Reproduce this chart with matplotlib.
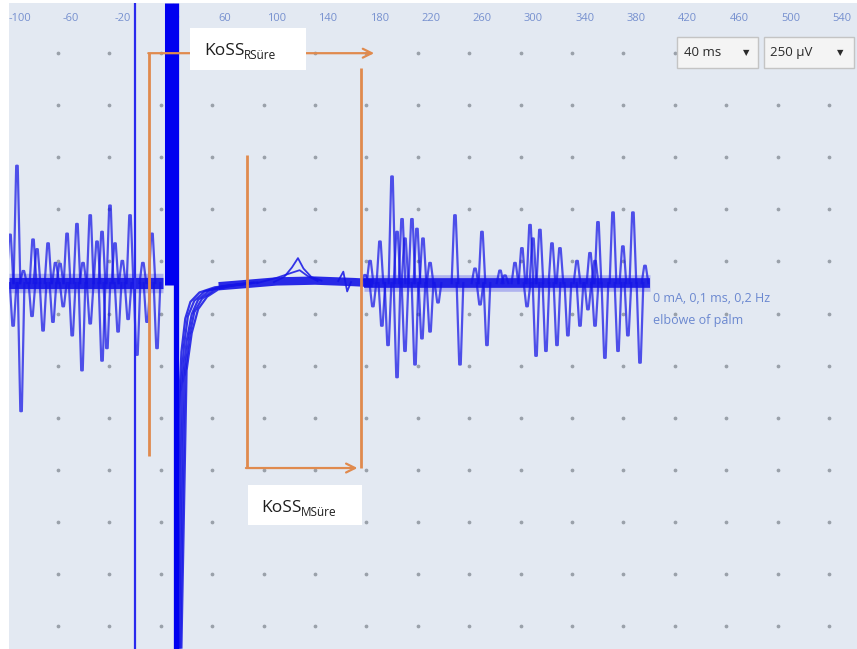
import matplotlib
matplotlib.use('Agg')
import matplotlib.pyplot as plt
from matplotlib.patches import Rectangle

plt.rcParams['font.family'] = ['Open Sans', 'DejaVu Sans']

# sweep axis (ms) and 250 uV / 40 ms division dots
tick_ms = list(range(-100, 541, 40))
dot_ms = list(range(-70, 531, 40))
dot_uv = list(range(-1646, 1105, 250))

# EMG deflections (time ms, peak uV) before the stimulus
pre_spikes = [(-107.4, 240), (-102, 581), (-97, 60), (-89.5, 216), (-86.4, 168),
              (-77.8, 197), (-72, 100), (-68.5, 96), (-63, 245), (-55.3, 293),
              (-50.6, 100), (-45, 336), (-39.7, 206), (-35.8, 254), (-29.6, 384),
              (-25.7, 197), (-20, 110), (-14, 336), (-4, 100), (3.1, 245),
              (-105, -211), (-98.8, -634), (-90.3, -163), (-81.7, -235), (-74, -192),
              (-66, -115), (-59, -259), (-51.4, -432), (-45, -200), (-35.8, -384),
              (-32, -322), (-23.3, -240), (-15.5, -178), (-8.6, -355), (-0.8, -192),
              (7, -322)]

# EMG returning after the silent period
post_spikes = [(168.9, 40), (172.8, 110), (180.5, 206), (189.9, 528), (193.8, 254),
               (197.7, 317), (200, 221), (205.4, 317), (209.3, 269), (214, 221),
               (219.5, 100), (238.9, 336), (254.5, 72), (259.9, 254), (274, 62),
               (175, -115), (182, -211), (186.8, -307), (193.8, -466), (200, -336),
               (207.8, -403), (213.2, -274), (219.5, -240), (225.7, -96), (242.8, -403),
               (258.4, -106), (263.8, -307),
               (277.8, 38), (285.6, 100), (291, 173), (297.3, 288), (299.6, 221),
               (305, 264), (314.4, 197), (320.6, 173), (333.9, 110), (344, 149),
               (347.9, 110), (350.2, 302), (361.9, 350), (369.6, 182), (377.4, 350),
               (386.8, 86),
               (295, -115), (302, -360), (309.7, -336), (318.3, -307), (326.8, -259),
               (336.2, -211), (342.4, -130), (347.9, -211), (355.6, -370), (365.8, -336),
               (373.5, -259), (382.9, -394)]

# recovery of the sweeps after the stimulus artefact
recovery = [
    ([22, 24, 26, 29, 33, 40, 52, 75], [-1750, -600, -330, -170, -90, -45, -20, -5]),
    ([23, 25.5, 28, 31, 36, 44, 58, 78], [-1750, -520, -300, -160, -85, -40, -15, -3]),
    ([24, 27, 30, 34, 39, 48, 62, 80], [-1750, -480, -280, -150, -80, -35, -12, 0]),
    ([25, 28.5, 32, 36, 42, 52, 66, 82], [-1750, -450, -260, -140, -75, -30, -10, 2]),
    ([26, 30, 34, 39, 46, 56, 70, 85], [-1750, -420, -240, -125, -65, -25, -6, 3]),
]

# silent period baseline and small bumps inside it
mid_ms = [55, 75, 100, 130, 160, 175]
mid_uv = [-15, -5, 8, 12, 5, 0]
bump1_ms = [98, 106, 112, 116.7, 121, 127, 135]
bump1_uv = [5, 30, 75, 120, 70, 30, 12]
bump2_ms = [85, 100, 112, 118, 124, 132]
bump2_uv = [0, 25, 50, 62, 35, 10]
wiggle_ms = [148, 152, 155, 158]
wiggle_uv = [10, 55, -40, 5]

# silent period cursors (ms)
rs_start, rs_end = 1, 176
ms_start, ms_end = 77, 163
sp_end = 166

blue = '#1414e6'
orange = '#e08a4e'

fig = plt.figure(figsize=(8.57, 6.49), dpi=100, facecolor='white')
ax = fig.add_axes([9 / 857, 0, 848 / 857, 646 / 649])
ax.set_facecolor('#e3e9f2')
ax.set_xlim(-108.2, 551.8)
ax.set_ylim(-1757, 1345)
ax.set_xticks([])
ax.set_yticks([])
for s in ax.spines.values():
    s.set_visible(False)

# division dots
for x in dot_ms:
    ax.plot([x] * len(dot_uv), dot_uv, ls='none', marker='o', ms=1.7,
            color='#9aa1aa', zorder=1)

# sweep tick labels along the top
for t in tick_ms:
    ax.text(t, 1270, str(t), ha='center', va='center', fontsize=8,
            color='#7690cf', zorder=1)

# baseline bands
ax.plot([-108.2, 12], [0, 0], color=blue, lw=14, alpha=0.25, solid_capstyle='butt', zorder=3)
ax.plot([-108.2, 12], [0, 0], color=blue, lw=8, alpha=0.9, solid_capstyle='butt', zorder=3)
ax.plot(mid_ms, mid_uv, color=blue, lw=6, alpha=0.9, solid_capstyle='butt', zorder=3)
ax.plot([168, 391], [0, 0], color=blue, lw=12, alpha=0.25, solid_capstyle='butt', zorder=3)
ax.plot([168, 391], [0, 0], color=blue, lw=7, alpha=0.9, solid_capstyle='butt', zorder=3)

for t, a in pre_spikes + post_spikes:
    ax.plot([t - 2.6, t - 0.6, t + 0.6, t + 2.6], [0, a * 0.97, a * 0.97, 0],
            color=blue, lw=1.6, alpha=0.72, zorder=3)

for xs, ys in recovery:
    ax.plot(xs, ys, color=blue, lw=1.6, alpha=0.85, zorder=3)
ax.plot(bump1_ms, bump1_uv, color=blue, lw=1.3, alpha=0.85, zorder=3)
ax.plot(bump2_ms, bump2_uv, color=blue, lw=1.3, alpha=0.85, zorder=3)
ax.plot(wiggle_ms, wiggle_uv, color=blue, lw=1.3, alpha=0.85, zorder=3)

# stimulus artefact
ax.vlines(-10, -1757, 1345, color='#2a2aee', lw=1.6, zorder=3)
ax.vlines(16.2, -10, 1345, color='#0000f0', lw=6.5, zorder=3)
ax.vlines(21.5, -1757, 1345, color='#0000f0', lw=3.8, zorder=3)

# silent period cursors
ax.vlines(rs_start, -830, 1104, color=orange, lw=2, zorder=4)
ax.vlines(sp_end, -888, 1032, color=orange, lw=2, zorder=4)
ax.vlines(ms_start, -888, 614, color=orange, lw=2, zorder=4)
ax.annotate('', xy=(rs_end, 1104), xytext=(rs_start - 0.8, 1104),
            arrowprops=dict(arrowstyle='->', color=orange, lw=1.6,
                            mutation_scale=16, shrinkA=0, shrinkB=0), zorder=4)
ax.annotate('', xy=(ms_end, -888), xytext=(ms_start - 0.8, -888),
            arrowprops=dict(arrowstyle='->', color=orange, lw=1.6,
                            mutation_scale=16, shrinkA=0, shrinkB=0), zorder=4)

# label boxes
ax.add_patch(Rectangle((32.7, 1022), 90.6, 202, facecolor='white', edgecolor='none', zorder=5))
ax.text(44, 1095, 'KoSS', fontsize=12.5, color='#1e1e1e', ha='left', va='baseline', zorder=6)
ax.text(74.5, 1075, 'RSüre', fontsize=8.5, color='#1e1e1e', ha='left', va='baseline', zorder=6)
ax.add_patch(Rectangle((77.8, -1162), 88.7, 192, facecolor='white', edgecolor='none', zorder=5))
ax.text(88.5, -1097, 'KoSS', fontsize=12.5, color='#1e1e1e', ha='left', va='baseline', zorder=6)
ax.text(119, -1117, 'MSüre', fontsize=8.5, color='#1e1e1e', ha='left', va='baseline', zorder=6)

# stimulus info
ax.text(393, -72, '0 mA, 0,1 ms, 0,2 Hz', fontsize=9, color='#6b88d0', ha='left',
        va='center', zorder=2)
ax.text(393, -178, 'elbowe of palm', fontsize=9, color='#6b88d0', ha='left',
        va='center', zorder=2)

# time / gain selectors
for x0, w, label, tri in [(412, 63.1, '40 ms', 465.4), (479.4, 70, '250 µV', 538.5)]:
    ax.add_patch(Rectangle((x0, 1032), w, 149, facecolor='#f4f4f4',
                           edgecolor='#c4c4c4', lw=1, zorder=5))
    ax.text(x0 + 5, 1106, label, fontsize=9.5, color='#2a2a2a', ha='left',
            va='center', zorder=6)
    ax.text(tri, 1106, '▼', fontsize=6, color='#2a2a2a', ha='center',
            va='center', family='DejaVu Sans', zorder=6)

fig.savefig('out.png', dpi=100, facecolor='white')
